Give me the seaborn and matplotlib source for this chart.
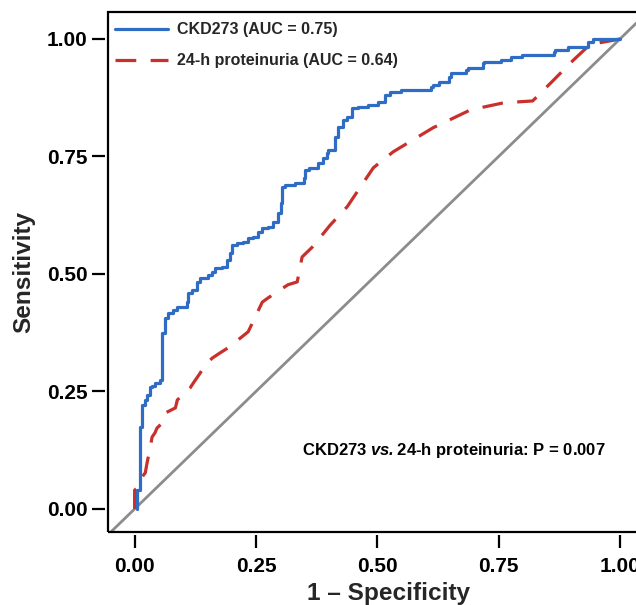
import numpy as np
import pandas as pd
import matplotlib
matplotlib.use("Agg")
import matplotlib.pyplot as plt
import seaborn as sns
from matplotlib.patches import Rectangle
from matplotlib.lines import Line2D

# ---------------- data ----------------
ckd_fpr = [0.005, 0.005, 0.011, 0.011, 0.015, 0.015, 0.022, 0.026, 0.032, 0.036,
           0.042, 0.053, 0.057, 0.057, 0.063, 0.069, 0.079, 0.088, 0.108, 0.110,
           0.119, 0.129, 0.135, 0.152, 0.160, 0.166, 0.180, 0.191, 0.197, 0.201,
           0.211, 0.224, 0.234, 0.244, 0.255, 0.263, 0.275, 0.286, 0.296, 0.301,
           0.304, 0.310, 0.331, 0.348, 0.352, 0.359, 0.378, 0.389, 0.397, 0.399,
           0.413, 0.420, 0.430, 0.438, 0.448, 0.461, 0.481, 0.502, 0.516, 0.527,
           0.548, 0.564, 0.610, 0.614, 0.627, 0.647, 0.651, 0.682, 0.686, 0.717,
           0.719, 0.754, 0.775, 0.799, 0.863, 0.867, 0.892, 0.894, 0.935, 0.944,
           0.960, 1.000]
ckd_tpr = [0.000, 0.040, 0.040, 0.174, 0.174, 0.217, 0.221, 0.232, 0.243, 0.260,
           0.262, 0.268, 0.274, 0.353, 0.374, 0.406, 0.417, 0.423, 0.430, 0.440,
           0.460, 0.466, 0.483, 0.491, 0.498, 0.504, 0.513, 0.515, 0.530, 0.545,
           0.562, 0.566, 0.568, 0.577, 0.579, 0.589, 0.598, 0.600, 0.611, 0.630,
           0.651, 0.685, 0.689, 0.694, 0.704, 0.721, 0.726, 0.736, 0.747, 0.757,
           0.764, 0.791, 0.813, 0.828, 0.834, 0.853, 0.855, 0.860, 0.866, 0.881,
           0.887, 0.891, 0.891, 0.898, 0.902, 0.909, 0.919, 0.928, 0.934, 0.938,
           0.949, 0.951, 0.955, 0.962, 0.966, 0.972, 0.977, 0.983, 0.983, 0.994,
           1.000, 1.000]

prot_fpr = [0.000, 0.000, 0.005, 0.011, 0.022, 0.026, 0.032, 0.036, 0.042, 0.046,
            0.057, 0.063, 0.084, 0.088, 0.100, 0.114, 0.121, 0.135, 0.145, 0.160,
            0.176, 0.193, 0.234, 0.263, 0.275, 0.316, 0.335, 0.345, 0.366, 0.403,
            0.438, 0.471, 0.492, 0.533, 0.615, 0.692, 0.760, 0.820, 0.857, 0.904,
            0.933, 0.954, 0.991, 1.000]
prot_tpr = [0.000, 0.040, 0.045, 0.062, 0.077, 0.100, 0.130, 0.153, 0.162, 0.172,
            0.183, 0.204, 0.215, 0.232, 0.243, 0.257, 0.268, 0.289, 0.306, 0.321,
            0.332, 0.343, 0.377, 0.440, 0.449, 0.477, 0.483, 0.536, 0.557, 0.604,
            0.643, 0.694, 0.726, 0.760, 0.811, 0.849, 0.864, 0.868, 0.906, 0.955,
            0.983, 0.991, 0.998, 1.000]

ref_x = [-0.1, 1.1]
ref_y = [-0.1, 1.1]

labels = ["CKD273 (AUC = 0.75)", "24-h proteinuria (AUC = 0.64)"]
tick_vals = [0.00, 0.25, 0.50, 0.75, 1.00]
tick_labels = ["0.00", "0.25", "0.50", "0.75", "1.00"]
annotation = r"CKD273 $\mathbfit{vs.}$24-h proteinuria: P = 0.007"

# ---------------- style ----------------
sns.set_theme(style="white")
plt.rcParams["font.family"] = ["Liberation Sans", "DejaVu Sans"]
plt.rcParams["font.weight"] = "bold"
plt.rcParams["mathtext.fontset"] = "custom"
plt.rcParams["mathtext.bfit"] = "Liberation Sans:italic:bold"
plt.rcParams["mathtext.rm"] = "Liberation Sans:bold"

BLUE = "#2f6cc4"
RED = "#c9302b"
GRAY = "#8c8c8c"

fig = plt.figure(figsize=(6.36, 6.05), dpi=100)
ax = fig.add_axes([0.170, 0.1207, 0.840, 0.8593])

df_ckd = pd.DataFrame({"fpr": ckd_fpr, "tpr": ckd_tpr})
df_prot = pd.DataFrame({"fpr": prot_fpr, "tpr": prot_tpr})
df_ref = pd.DataFrame({"x": ref_x, "y": ref_y})

sns.lineplot(data=df_ref, x="x", y="y", ax=ax, color=GRAY, linewidth=2.0,
             sort=False, estimator=None, zorder=1)
sns.lineplot(data=df_prot, x="fpr", y="tpr", ax=ax, color=RED, linewidth=2.3,
             sort=False, estimator=None, dashes=False, zorder=2)
ax.lines[-1].set_dashes((6.5, 4.5))
sns.lineplot(data=df_ckd, x="fpr", y="tpr", ax=ax, color=BLUE, linewidth=2.3,
             sort=False, estimator=None, drawstyle="steps-pre", zorder=3)

ax.set_xlim(-0.0546, 1.046)
ax.set_ylim(-0.049, 1.057)

# R-style axes: ticks offset slightly from the box
for side in ["left", "bottom"]:
    ax.spines[side].set_position(("outward", 2.2))
    ax.spines[side].set_visible(False)
for side in ["right", "top"]:
    ax.spines[side].set_visible(False)
ax.add_patch(Rectangle((0, 0), 1, 1, transform=ax.transAxes, fill=False,
                       edgecolor="black", linewidth=1.6, clip_on=False, zorder=5))

ax.set_xticks(tick_vals, tick_labels)
ax.set_yticks(tick_vals, tick_labels)
ax.tick_params(axis="both", direction="out", length=9.4, width=1.6, color="black",
               labelsize=15, labelcolor="black", left=True, bottom=True)
ax.tick_params(axis="x", pad=6.5)
ax.tick_params(axis="y", pad=3)
for t in ax.get_xticklabels() + ax.get_yticklabels():
    t.set_fontweight("bold")

ax.set_xlabel("1 \u2013 Specificity", fontsize=17.6, fontweight="bold", labelpad=4.5)
ax.set_ylabel("Sensitivity", fontsize=17.6, fontweight="bold", labelpad=8.5)
ax.xaxis.label.set_x(0.524)

handles = [Line2D([], [], color=BLUE, linewidth=2.3),
           Line2D([], [], color=RED, linewidth=2.3, dashes=(6.5, 4.5))]
leg = ax.legend(handles, labels, loc="upper left", bbox_to_anchor=(0.0, 0.994),
                frameon=False, prop={"size": 11.5, "weight": "bold"},
                handlelength=3.3, handletextpad=0.55, labelspacing=1.0,
                borderaxespad=0.0, borderpad=0.45)

ax.text(0.970, 0.125, annotation, fontsize=12, fontweight="bold", ha="right",
        va="center", transform=ax.transData, color="black")

fig.savefig("out.png", dpi=100)
